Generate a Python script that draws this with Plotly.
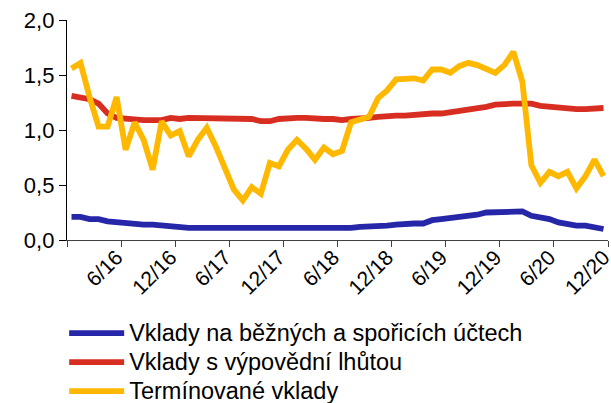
import plotly.graph_objects as go

months = list(range(60))  # Jan 2016 .. Dec 2020, monthly
tick_labels = ["6/16", "12/16", "6/17", "12/17", "6/18", "12/18", "6/19", "12/19", "6/20", "12/20"]
label_idx = [5, 11, 17, 23, 29, 35, 41, 47, 53, 59]

bezne = [0.21, 0.21, 0.19, 0.19, 0.17, 0.16, 0.15, 0.15, 0.14, 0.14,
         0.13, 0.12, 0.11, 0.11, 0.11, 0.11, 0.11, 0.11, 0.11, 0.11,
         0.11, 0.11, 0.10, 0.10, 0.11, 0.10, 0.11, 0.11, 0.11, 0.11,
         0.11, 0.11, 0.12, 0.12, 0.13, 0.13, 0.14, 0.15, 0.15, 0.15,
         0.18, 0.19, 0.20, 0.21, 0.21, 0.23, 0.25, 0.25, 0.25, 0.26,
         0.26, 0.22, 0.21, 0.19, 0.16, 0.14, 0.13, 0.13, 0.12, 0.10]

vypovedni = [1.31, 1.30, 1.28, 1.24, 1.15, 1.11, 1.10, 1.10, 1.09, 1.09,
             1.09, 1.11, 1.10, 1.11, 1.11, 1.11, 1.11, 1.11, 1.11, 1.10,
             1.10, 1.08, 1.08, 1.10, 1.11, 1.11, 1.11, 1.10, 1.10, 1.10,
             1.09, 1.10, 1.10, 1.11, 1.12, 1.13, 1.13, 1.13, 1.14, 1.14,
             1.15, 1.15, 1.16, 1.18, 1.18, 1.20, 1.21, 1.23, 1.24, 1.24,
             1.24, 1.24, 1.22, 1.21, 1.20, 1.19, 1.19, 1.19, 1.19, 1.20]

terminovane = [1.56, 1.61, 1.30, 1.03, 1.03, 1.30, 0.82, 1.07, 0.91, 0.64,
               1.08, 0.95, 0.99, 0.76, 0.91, 1.02, 0.85, 0.65, 0.46, 0.36,
               0.48, 0.42, 0.70, 0.67, 0.82, 0.91, 0.83, 0.73, 0.84, 0.78,
               0.81, 1.07, 1.09, 1.12, 1.29, 1.36, 1.46, 1.47, 1.47, 1.45,
               1.55, 1.55, 1.52, 1.58, 1.61, 1.59, 1.55, 1.52, 1.59, 1.71,
               1.44, 0.68, 0.52, 0.62, 0.58, 0.62, 0.47, 0.58, 0.73, 0.58]

series_names = ["Vklady na běžných a spořicích účtech", "Vklady s výpovědní lhůtou", "Termínované vklady"]
series_values = [bezne, vypovedni, terminovane]
series_colors = ["#2626A8", "#D82E22", "#FFB800"]

FONT = "Liberation Sans, Arial, sans-serif"

fig = go.Figure()
for name, vals, col in zip(series_names, series_values, series_colors):
    fig.add_trace(go.Scatter(x=months, y=vals, mode="lines",
                             name='<span style="font-size:23.5px">' + name + "</span>",
                             line=dict(color=col, width=5.8), xaxis="x", yaxis="y"))

# invisible trace to activate the label axis
fig.add_trace(go.Scatter(x=[months[0]], y=[0], xaxis="x2", yaxis="y",
                         mode="markers", marker=dict(opacity=0), showlegend=False,
                         hoverinfo="skip"))

xr = [-0.5, len(months) - 0.5]
fig.update_layout(
    width=611, height=403,
    margin=dict(l=67, r=3, t=20, b=163, autoexpand=False),
    paper_bgcolor="white", plot_bgcolor="white",
    separators=", ",
    font=dict(family=FONT, color="#000000", size=21),
    showlegend=True,
    legend=dict(xref="container", yref="container", x=0.105, y=0.222,
                xanchor="left", yanchor="top", bgcolor="rgba(0,0,0,0)",
                font=dict(size=20), tracegroupgap=0, itemwidth=55),
    xaxis=dict(range=xr, tickmode="array",
               tickvals=[i - 0.5 for i in range(0, len(months) + 1, 6)],
               showticklabels=False, ticks="outside", ticklen=6, tickcolor="#404040",
               showline=True, linecolor="#404040", linewidth=1.3,
               showgrid=False, zeroline=False),
    xaxis2=dict(range=xr, overlaying="x", side="bottom", tickmode="array",
                tickvals=label_idx, ticktext=tick_labels, tickangle=-45,
                ticks="", ticklen=0, showline=False, showgrid=False, zeroline=False,
                ticklabeloverflow="allow", tickfont=dict(size=21)),
    yaxis=dict(range=[0, 2.0], tickmode="array", tickvals=[0, 0.5, 1.0, 1.5, 2.0],
               tickformat=".1f", ticks="outside", ticklen=7, tickcolor="#000000",
               showline=True, linecolor="#000000", linewidth=1.3,
               showgrid=False, zeroline=False, tickfont=dict(size=22)),
)

fig.write_html("out.html", config={"displayModeBar": False},
               post_script="document.body.style.margin='0';document.body.style.overflow='hidden';")
